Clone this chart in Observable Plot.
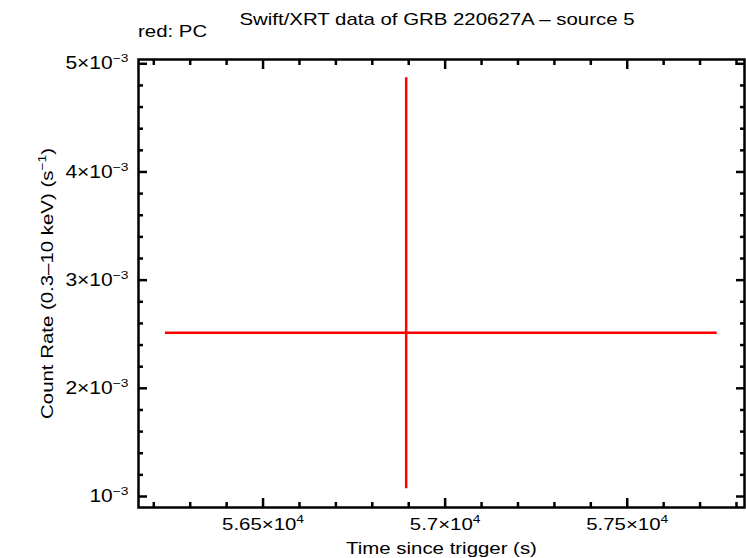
<!DOCTYPE html>
<html>
<head>
<meta charset="utf-8">
<script src="https://cdn.jsdelivr.net/npm/d3@7"></script>
<script src="https://cdn.jsdelivr.net/npm/@observablehq/plot@0.6"></script>
<style>
  body { margin: 0; background: #fff; font-family: "Liberation Sans", Arial, Helvetica, sans-serif; }
  #wrap { position: relative; width: 746px; height: 558px; overflow: hidden; background: #fff; }
  .t { position: absolute; white-space: nowrap; font-size: 17px; line-height: 20px; color: #000; transform-origin: 0 0; }
  #title { left: 437px; top: 10px; transform: scaleX(1.2) translateX(-50%); }
  #sub { left: 138px; top: 22px; transform: scaleX(1.2); }
  #chart { position: absolute; left: 0; top: 50px; }
</style>
</head>
<body>
<div id="wrap">
  <div class="t" id="title"></div>
  <div class="t" id="sub"></div>
  <div id="chart"></div>
</div>
<script>
// ---- text ----
const title = "Swift/XRT data of GRB 220627A \u2013 source 5";
const subtitle = "red: PC";
const xLabel = "Time since trigger (s)";
const yLabel = "Count Rate (0.3\u201310 keV) (s^{\u22121})";

// ---- data (PC mode) ----
const time = [56893];
const timeStart = [56232];
const timeEnd = [57747];
const rate = [2.513e-3];
const rateLow = [1.071e-3];
const rateHigh = [4.871e-3];

// ---- axes ----
const xDomain = [56158, 57822];
const yDomain = [0.8983e-3, 5.0397e-3];
const xMajor = [56500, 57000, 57500];
const xMajorLabels = ["5.65\u00d710^{4}", "5.7\u00d710^{4}", "5.75\u00d710^{4}"];
const xMinor = [56200, 56300, 56400, 56600, 56700, 56800, 56900, 57100, 57200, 57300, 57400, 57600, 57700, 57800];
const yMajor = [1e-3, 2e-3, 3e-3, 4e-3, 5e-3];
const yMajorLabels = ["10^{\u22123}", "2\u00d710^{\u22123}", "3\u00d710^{\u22123}", "4\u00d710^{\u22123}", "5\u00d710^{\u22123}"];
const yMinor = [1.2e-3, 1.4e-3, 1.6e-3, 1.8e-3, 2.2e-3, 2.4e-3, 2.6e-3, 2.8e-3, 3.2e-3, 3.4e-3, 3.6e-3, 3.8e-3, 4.2e-3, 4.4e-3, 4.6e-3, 4.8e-3];

const points = time.map((t, i) => ({t, t0: timeStart[i], t1: timeEnd[i], r: rate[i], r0: rateLow[i], r1: rateHigh[i]}));

document.getElementById("title").textContent = title;
document.getElementById("sub").textContent = subtitle;

const RED = "#ff0000";
const TW = 2.5;

const svg = Plot.plot({
  width: 746,
  height: 508,
  marginLeft: 138,
  marginRight: 2,
  marginTop: 9,
  marginBottom: 51,
  x: {domain: xDomain},
  y: {domain: yDomain},
  style: {fontFamily: "'Liberation Sans', Arial, Helvetica, sans-serif", fontSize: "17px", color: "black", background: "white", overflow: "visible"},
  marks: [
    Plot.ruleY(points, {y: "r", x1: "t0", x2: "t1", stroke: RED, strokeWidth: 2.5}),
    Plot.ruleX(points, {x: "t", y1: "r0", y2: "r1", stroke: RED, strokeWidth: 2.5}),
    // inward ticks on all four sides
    Plot.axisX(xMajor, {anchor: "bottom", tickSize: -9, fill: "none", strokeWidth: TW, label: null}),
    Plot.axisX(xMinor, {anchor: "bottom", tickSize: -5, fill: "none", strokeWidth: TW, label: null}),
    Plot.axisX(xMajor, {anchor: "top", tickSize: -9, fill: "none", strokeWidth: TW, label: null}),
    Plot.axisX(xMinor, {anchor: "top", tickSize: -5, fill: "none", strokeWidth: TW, label: null}),
    Plot.axisY(yMajor, {anchor: "left", tickSize: -9, fill: "none", strokeWidth: TW, label: null}),
    Plot.axisY(yMinor, {anchor: "left", tickSize: -5, fill: "none", strokeWidth: TW, label: null}),
    Plot.axisY(yMajor, {anchor: "right", tickSize: -9, fill: "none", strokeWidth: TW, label: null}),
    Plot.axisY(yMinor, {anchor: "right", tickSize: -5, fill: "none", strokeWidth: TW, label: null}),
    // tick labels
    Plot.axisX(xMajor, {anchor: "bottom", tickSize: 0, tickPadding: 10, label: null, fontSize: 17,
      tickFormat: d => xMajorLabels[xMajor.indexOf(d)]}),
    Plot.axisY(yMajor, {anchor: "left", tickSize: 0, tickPadding: 10, label: null, fontSize: 17.5,
      tickFormat: d => yMajorLabels[yMajor.indexOf(d)]}),
    // axis titles
    Plot.text([xLabel], {text: d => d, frameAnchor: "bottom", dy: 46, lineAnchor: "bottom", textAnchor: "middle", fontSize: 17}),
    Plot.text([yLabel], {text: d => d, frameAnchor: "left", dx: -91, rotate: -90, textAnchor: "middle", lineAnchor: "middle", fontSize: 17}),
    Plot.frame({stroke: "black", strokeWidth: 2.5})
  ]
});

document.getElementById("chart").append(svg);

// superscripts
const NS = "http://www.w3.org/2000/svg";
svg.querySelectorAll("text").forEach(t => {
  const s = t.textContent;
  if (!s.includes("^{")) return;
  const parts = s.split(/\^\{([^}]*)\}/);
  t.textContent = "";
  let shifted = false;
  parts.forEach((p, i) => {
    if (p === "") return;
    const ts = document.createElementNS(NS, "tspan");
    ts.textContent = p;
    if (i % 2 === 1) { ts.setAttribute("dy", "-7"); ts.setAttribute("font-size", "11.5"); shifted = true; }
    else if (shifted) { ts.setAttribute("dy", "7"); shifted = false; }
    t.append(ts);
  });
});
// horizontal stretch of glyphs to mimic the original font, keeping each text's anchor
svg.querySelectorAll("text").forEach(t => {
  const bb0 = t.getBBox();
  const w = t.getComputedTextLength();
  t.setAttribute("textLength", (w * 1.2).toFixed(1));
  t.setAttribute("lengthAdjust", "spacingAndGlyphs");
  const bb1 = t.getBBox();
  const anchor = getComputedStyle(t).textAnchor;
  let shift;
  if (anchor === "end") shift = (bb0.x + bb0.width) - (bb1.x + bb1.width);
  else if (anchor === "middle") shift = (bb0.x + bb0.width / 2) - (bb1.x + bb1.width / 2);
  else shift = bb0.x - bb1.x;
  if (Math.abs(shift) > 0.5) {
    const x0 = parseFloat(t.getAttribute("x")) || 0;
    t.setAttribute("x", (x0 + shift).toFixed(1));
  }
});
</script>
</body>
</html>
